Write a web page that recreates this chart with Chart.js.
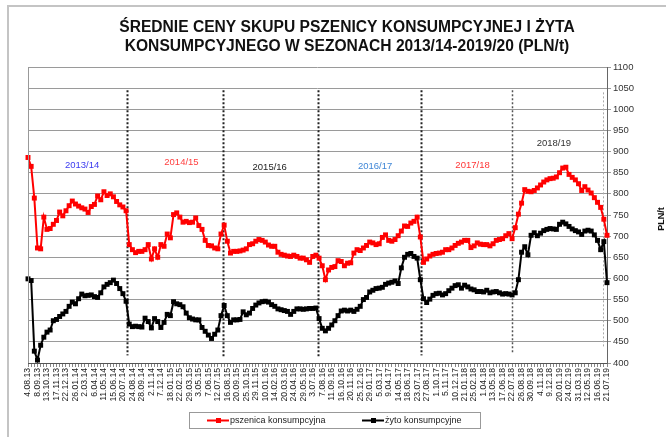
<!DOCTYPE html>
<html>
<head>
<meta charset="utf-8">
<script src="https://cdn.jsdelivr.net/npm/chart.js@4"></script>
<style>
  body { margin: 0; background: #fff; }
  canvas { display: block; }
</style>
</head>
<body>
<canvas id="prices-chart" width="666" height="437"></canvas>
<script>
// Średnie ceny skupu pszenicy i żyta konsumpcyjnego, 2013/14 - 2019/20

// x-axis tick labels (one every 5 weeks)
const tickLabels = [
    '4.08.13', '8.09.13', '13.10.13', '17.11.13', '22.12.13', '26.01.14', '2.03.14', '6.04.14',
    '11.05.14', '15.06.14', '20.07.14', '24.08.14', '28.09.14', '2.11.14', '7.12.14', '18.01.15',
    '22.02.15', '29.03.15', '3.05.15', '7.06.15', '12.07.15', '16.08.15', '20.09.15', '25.10.15',
    '29.11.15', '10.01.16', '14.02.16', '20.03.16', '24.04.16', '29.05.16', '3.07.16', '7.08.16',
    '11.09.16', '16.10.16', '20.11.16', '25.12.16', '29.01.17', '5.03.17', '9.04.17', '14.05.17',
    '18.06.17', '23.07.17', '27.08.17', '1.10.17', '5.11.17', '10.12.17', '21.01.18', '25.02.18',
    '1.04.18', '13.05.18', '17.06.18', '22.07.18', '26.08.18', '30.09.18', '4.11.18', '9.12.18',
    '20.01.19', '24.02.19', '31.03.19', '12.05.19', '16.06.19', '21.07.19'
];
const pointsPerTick = 3;

// pszenica konsumpcyjna (PLN/t)
const wheatPrices = [
    886, 865, 790, 672, 670, 745, 716, 718, 728, 737,
    757, 748, 760, 772, 783, 776, 771, 767, 764, 756,
    770, 775, 795, 786, 805, 796, 800, 793, 782, 774,
    769, 760, 680, 668, 661, 664, 664, 668, 680, 646,
    670, 650, 680, 676, 705, 696, 751, 755, 745, 733,
    735, 732, 733, 743, 725, 716, 690, 678, 677, 672,
    670, 705, 726, 688, 660, 664, 664, 665, 667, 670,
    680, 682, 688, 692, 690, 686, 679, 676, 676, 662,
    657, 655, 653, 652, 655, 652, 648, 648, 644, 638,
    652, 655, 648, 630, 597, 620, 626, 628, 642, 640,
    630, 636, 637, 660, 668, 666, 672, 678, 686, 684,
    680, 682, 697, 703, 690, 688, 692, 701, 712, 724,
    723, 731, 735, 745, 698, 638, 646, 653, 657, 659,
    660, 662, 668, 668, 672, 678, 683, 686, 690, 690,
    673, 677, 684, 681, 680, 680, 677, 682, 690, 692,
    694, 701, 706, 694, 720, 752, 778, 810, 806, 805,
    808, 814, 821, 828, 833, 836, 837, 840, 850, 861,
    863, 846, 839, 833, 824, 808, 817, 809, 802, 791,
    780, 768, 740, 702
];

// żyto konsumpcyjne (PLN/t)
const ryePrices = [
    599, 595, 428, 407, 442, 461, 473, 478, 500, 503,
    510, 516, 522, 534, 544, 540, 552, 563, 559, 560,
    561, 557, 555, 566, 580, 586, 590, 596, 588, 576,
    564, 546, 492, 486, 487, 486, 485, 506, 498, 483,
    505, 498, 484, 496, 515, 512, 545, 540, 538, 533,
    518, 507, 504, 502, 502, 484, 475, 466, 458, 468,
    478, 512, 536, 512, 496, 502, 502, 503, 521, 514,
    518, 529, 537, 542, 545, 546, 544, 538, 534, 528,
    526, 524, 522, 515, 522, 528, 528, 527, 528, 529,
    529, 530, 505, 482, 476, 482, 490, 500, 512, 523,
    525, 523, 525, 522, 527, 534, 550, 555, 568, 572,
    576, 577, 579, 586, 589, 591, 594, 588, 625, 650,
    657, 659, 652, 648, 597, 552, 543, 551, 560, 564,
    565, 561, 564, 571, 577, 583, 585, 577, 584, 580,
    575, 573, 569, 569, 568, 572, 566, 568, 569, 566,
    563, 564, 563, 561, 566, 597, 662, 675, 656, 702,
    708, 701, 707, 713, 716, 718, 717, 716, 728, 733,
    729, 723, 717, 713, 710, 704, 712, 714, 712, 703,
    690, 668, 687, 590
];

// seasons and where they split (in point-index units)
const seasonNames = ['2013/14', '2014/15', '2015/16', '2016/17', '2017/18', '2018/19'];
const seasonBreaks = [31.4, 61.5, 91.7, 124.3, 152.9, 181.7];

const yTicks = { min: 400, max: 1100, step: 50 };

// Build category labels: one tick label per group of points
const labels = wheatPrices.map((_, i) => (i % pointsPerTick === 0 ? tickLabels[i / pointsPerTick] : ''));

const FONT = '"Liberation Sans", Arial, sans-serif';

// season label anchors (index, value) and colours
const seasonLabelStyle = {
    at: [[17.1, 867], [48.5, 874], [76.4, 862], [109.7, 865], [140.5, 867], [166.2, 920]],
    colors: ['#3b3bf0', '#ff4040', '#222222', '#3f86d6', '#ff3535', '#333333']
};
const breakStyle = [
    { color: '#222', width: 2, from: 1045, to: 418 },
    { color: '#222', width: 2, from: 1045, to: 416 },
    { color: '#222', width: 2, from: 1045, to: 416 },
    { color: '#222', width: 2, from: 1045, to: 418 },
    { color: '#555', width: 1.5, from: 1045, to: 422 },
    { color: '#aaa', width: 1, from: 1040, to: 435 }
];

const seasonsPlugin = {
    id: 'seasons',
    beforeDatasetsDraw(chart) {
        const { ctx, scales: { x, y } } = chart;
        ctx.save();
        // season separators
        seasonBreaks.forEach((b, k) => {
            const st = breakStyle[k];
            const px = Math.round(x.getPixelForValue(b)) + 0.5;
            ctx.strokeStyle = st.color;
            ctx.lineWidth = st.width;
            ctx.setLineDash([2, 2]);
            ctx.beginPath();
            ctx.moveTo(px, y.getPixelForValue(st.from));
            ctx.lineTo(px, y.getPixelForValue(st.to));
            ctx.stroke();
        });
        ctx.setLineDash([]);
        // season names
        ctx.font = '9.5px ' + FONT;
        ctx.textAlign = 'center';
        ctx.textBaseline = 'middle';
        seasonNames.forEach((name, k) => {
            const [ix, val] = seasonLabelStyle.at[k];
            ctx.fillStyle = seasonLabelStyle.colors[k];
            ctx.fillText(name, x.getPixelForValue(ix), y.getPixelForValue(val));
        });
        ctx.restore();
    }
};

const decorPlugin = {
    id: 'decor',
    afterDraw(chart) {
        const { ctx, chartArea } = chart;
        ctx.save();

        // outer frame (left and top only visible)
        ctx.strokeStyle = '#c4c4c4';
        ctx.lineWidth = 2;
        ctx.beginPath();
        ctx.moveTo(8, 437);
        ctx.lineTo(8, 6);
        ctx.lineTo(666, 6);
        ctx.stroke();

        // left plot border
        ctx.strokeStyle = '#999';
        ctx.lineWidth = 1;
        ctx.beginPath();
        ctx.moveTo(chartArea.left + 0.5, chartArea.top);
        ctx.lineTo(chartArea.left + 0.5, chartArea.bottom);
        ctx.stroke();

        // title
        ctx.fillStyle = '#111';
        ctx.font = 'bold 15.6px ' + FONT;
        ctx.textAlign = 'center';
        ctx.textBaseline = 'middle';
        ctx.fillText('ŚREDNIE CENY SKUPU PSZENICY KONSUMPCYJNEJ I ŻYTA', 347, 28);
        ctx.fillText('KONSUMPCYJNEGO W SEZONACH 2013/14-2019/20 (PLN/t)', 347, 47);

        // axis unit
        ctx.save();
        ctx.translate(662, 219);
        ctx.rotate(-Math.PI / 2);
        ctx.font = 'bold 9px ' + FONT;
        ctx.fillText('PLN/t', 0, 0);
        ctx.restore();

        // legend with border
        ctx.strokeStyle = '#999';
        ctx.lineWidth = 1;
        ctx.strokeRect(189.5, 412.5, 291, 16);
        const itemX = [207, 362];
        ctx.font = '9px ' + FONT;
        ctx.textAlign = 'left';
        chart.data.datasets.forEach((ds, k) => {
            const lx = itemX[k];
            const ly = 420.5;
            ctx.strokeStyle = ds.borderColor;
            ctx.lineWidth = 2;
            ctx.beginPath();
            ctx.moveTo(lx, ly);
            ctx.lineTo(lx + 22, ly);
            ctx.stroke();
            ctx.fillStyle = ds.borderColor;
            ctx.fillRect(lx + 9, ly - 2.5, 5, 5);
            ctx.fillStyle = '#222';
            ctx.fillText(ds.label, lx + 23, ly);
        });
        ctx.restore();
    }
};

const ctx = document.getElementById('prices-chart');

new Chart(ctx, {
    type: 'line',
    data: {
        labels: labels,
        datasets: [
            {
                label: 'pszenica konsumpcyjna',
                data: wheatPrices,
                borderColor: '#ff0000',
                backgroundColor: '#ff0000',
                borderWidth: 2,
                pointStyle: 'rect',
                pointRadius: 3.5,
                pointBorderWidth: 0,
                pointBackgroundColor: '#ff0000',
                tension: 0
            },
            {
                label: 'żyto konsumpcyjne',
                data: ryePrices,
                borderColor: '#000000',
                backgroundColor: '#000000',
                borderWidth: 2,
                pointStyle: 'rect',
                pointRadius: 3.5,
                pointBorderWidth: 0,
                pointBackgroundColor: '#000000',
                tension: 0
            }
        ]
    },
    options: {
        responsive: false,
        animation: false,
        devicePixelRatio: 1,
        layout: {
            padding: { left: 28, top: 67, right: 0, bottom: 0 }
        },
        plugins: {
            legend: { display: false },
            title: { display: false },
            tooltip: { enabled: false }
        },
        scales: {
            x: {
                offset: false,
                afterFit: function (scale) {
                    scale.height = 74;
                },
                grid: {
                    drawOnChartArea: false,
                    drawTicks: true,
                    tickLength: 4,
                    color: '#888'
                },
                border: {
                    color: '#555'
                },
                ticks: {
                    autoSkip: false,
                    minRotation: 90,
                    maxRotation: 90,
                    padding: 1,
                    color: '#222',
                    font: { family: FONT, size: 8.6 }
                }
            },
            y: {
                position: 'right',
                min: yTicks.min,
                max: yTicks.max,
                afterFit: function (scale) {
                    scale.width = 59;
                },
                grid: {
                    color: '#9a9a9a',
                    lineWidth: 1,
                    tickLength: 4
                },
                border: {
                    color: '#666'
                },
                ticks: {
                    stepSize: yTicks.step,
                    padding: 2,
                    color: '#333',
                    font: { family: FONT, size: 9.5 },
                    callback: function (value) {
                        return String(value);
                    }
                }
            }
        }
    },
    plugins: [seasonsPlugin, decorPlugin]
});
</script>
</body>
</html>
